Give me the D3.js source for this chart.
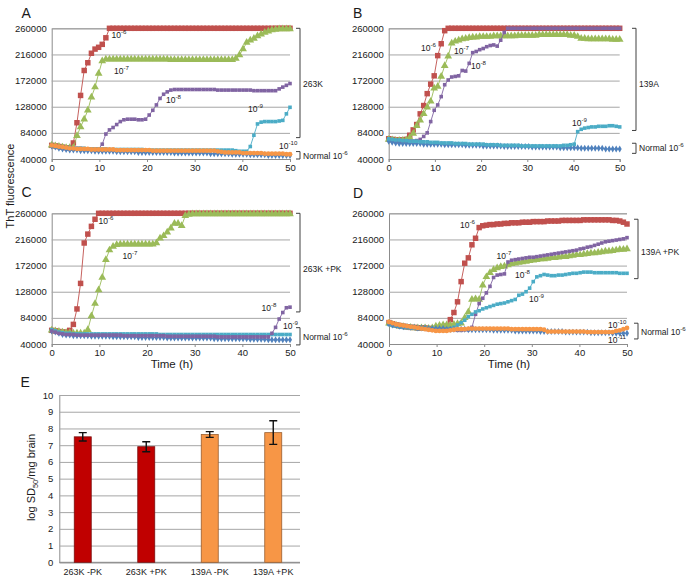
<!DOCTYPE html>
<html>
<head>
<meta charset="utf-8">
<script src="https://cdn.jsdelivr.net/npm/d3@7"></script>
<style>
  body { margin: 0; background: #fff; }
  svg { font-family: "Liberation Sans", Arial, sans-serif; }
</style>
</head>
<body>
<div id="chart"></div>
<script>
// readings every ~45 min, 67 reads over 50 h
const nReads = 67;
const timeTicks = [0, 10, 20, 30, 40, 50];
const thtTicks = [40000, 84000, 128000, 172000, 216000, 260000];

// ThT fluorescence, in thousands
// Panel A: 263K
const a_1e6 = [63,62,61,60,59,59,67,101,147,189,
  202,218,225,228,233,244,260,260,260,260,
  260,260,260,260,260,260,260,260,260,260,
  260,260,260,260,260,260,260,260,260,260,
  260,260,260,260,260,260,260,260,260,260,
  260,260,260,260,260,260,260,260,260,260,
  260,260,260,260,260,260,260];
const a_1e7 = [63,62,61,60,59,59,59,79,94,107,
  122,144,161,184,205,208,208,208,208,208,
  208,208,208,208,208,208,208,208,208,208,
  208,208,208,207,207,207,207,207,207,207,
  207,207,207,207,207,207,207,207,207,207,
  207,209,215,225,236,240,243,247,250,253,
  255,257,258,259,259,259,259];
const a_1e8 = [63,62,61,60,59,59,58,58,58,57,
  57,57,57,57,65,82,89,93,98,103,
  106,107,107,107,106,106,107,114,122,131,
  142,149,153,156,157,157,157,157,157,157,
  157,157,157,157,157,157,156,156,156,156,
  156,156,156,156,156,156,155,155,155,155,
  155,155,155,158,161,164,167];
const a_1e9 = [62,61,60,60,59,59,58,58,58,58,
  57,57,57,57,57,57,56,56,56,56,
  56,56,56,56,56,56,55,55,55,55,
  55,55,55,55,55,55,55,55,55,55,
  55,55,55,55,55,55,55,55,55,55,
  55,54,53,53,53,61,80,99,102,103,
  103,103,103,104,105,116,127];
const a_1e10 = [63,62,61,60,59,58,58,57,57,57,
  57,56,56,56,56,56,56,56,55,55,
  55,55,55,55,55,55,55,55,54,54,
  54,54,54,54,54,54,54,54,54,54,
  54,54,54,54,54,54,53,52,51,51,
  51,51,51,50,50,50,50,50,50,49,
  49,49,49,49,49,48,48];
const a_normal = [62,60,58,57,56,55,55,55,54,54,
  54,54,53,53,53,53,53,53,52,52,
  52,52,52,52,51,51,51,51,51,51,
  51,51,51,51,50,50,50,50,50,50,
  50,50,50,50,49,49,49,49,49,49,
  48,48,48,48,48,47,47,47,47,47,
  46,46,46,46,46,46,46];

// Panel B: 139A
const b_1e6 = [74,73,72,72,72,73,80,89,98,116,
  130,150,166,180,214,234,256,260,260,260,
  260,260,260,260,260,260,260,260,260,260,
  260,260,260,260,260,260,260,260,260,260,
  260,260,260,260,260,260,260,260,260,260,
  260,260,260,260,260,260,260,260,260,260,
  260,260,260,260,260,260,260];
const b_1e7 = [73,72,71,71,71,72,76,83,96,105,
  116,127,137,159,162,179,197,213,235,238,
  240,242,243,244,245,245,246,246,246,246,
  247,247,247,247,247,247,247,248,248,248,
  248,248,248,249,249,249,249,249,249,249,
  249,249,248,248,246,243,243,242,242,242,
  242,242,242,242,241,241,241];
const b_1e8 = [72,71,70,70,70,70,70,70,71,73,
  78,84,103,122,131,145,165,173,178,179,
  180,189,188,201,219,221,224,226,229,231,
  232,230,240,253,260,260,260,260,260,260,
  260,260,260,260,260,260,260,260,260,260,
  260,260,260,260,260,260,260,260,260,260,
  260,260,260,260,260,260,260];
const b_1e9 = [74,73,72,72,71,71,70,70,70,69,
  69,69,68,68,68,67,67,67,67,66,
  66,66,66,65,65,65,65,65,64,64,
  64,64,63,63,63,63,63,63,62,62,
  62,62,62,62,62,62,62,62,62,62,
  63,63,64,65,86,90,92,93,94,94,
  95,95,95,96,96,95,94];
const b_normal = [70,68,67,66,66,66,66,66,66,66,
  65,65,65,65,65,65,64,64,64,64,
  64,64,63,63,63,63,63,62,62,62,
  62,62,62,61,61,61,61,61,61,61,
  61,60,60,60,60,60,60,60,60,59,
  59,59,59,59,59,58,58,58,58,58,
  58,58,57,57,57,57,57];

// Panel C: 263K +PK
const c_1e6 = [63,62,61,60,60,63,73,99,142,210,
  225,238,250,260,260,260,260,260,260,260,
  260,260,260,260,260,260,260,260,260,260,
  260,260,260,260,260,260,260,260,260,260,
  260,260,260,260,260,260,260,260,260,260,
  260,260,260,260,260,260,260,260,260,260,
  260,260,260,260,260,260,260];
const c_1e7 = [63,62,61,60,59,59,58,58,58,58,
  64,87,108,131,152,182,198,204,207,208,
  208,208,208,208,208,208,208,208,208,210,
  218,222,228,235,243,243,239,256,258,259,
  259,259,259,259,259,259,259,259,259,259,
  259,259,259,259,259,259,259,259,259,259,
  259,259,259,259,259,259,259];
const c_1e8 = [62,60,58,57,56,56,56,55,55,55,
  55,55,55,55,55,55,55,55,55,55,
  54,54,54,54,54,54,54,54,54,54,
  54,54,53,53,53,53,53,53,53,53,
  53,53,53,53,53,53,52,52,52,52,
  52,52,52,52,52,52,52,52,52,52,
  52,58,68,82,93,101,102];
const c_1e9 = [64,62,60,59,58,58,57,57,57,57,
  57,57,57,57,57,57,57,57,57,57,
  57,57,57,57,57,57,57,57,57,57,
  56,56,56,56,56,56,56,56,56,56,
  56,56,56,56,56,56,56,56,56,56,
  56,56,56,56,56,56,56,56,56,56,
  56,56,56,56,56,56,56];
const c_normal = [62,60,58,56,55,55,54,54,54,54,
  54,53,53,53,53,53,53,52,52,52,
  52,52,52,52,51,51,51,51,51,51,
  51,51,50,50,50,50,50,50,50,50,
  50,50,50,50,50,49,49,49,49,49,
  49,49,49,49,49,48,48,48,48,48,
  47,47,47,47,47,47,47];

// Panel D: 139A +PK
const d_1e6 = [76,74,72,71,70,69,68,68,67,67,
  67,66,66,66,66,67,70,81,93,111,
  145,176,185,207,218,236,239,240,241,241,
  242,242,243,243,244,244,244,245,245,245,
  246,246,246,246,247,247,247,247,248,248,
  248,248,248,248,249,249,249,249,249,249,
  249,249,248,248,247,245,242];
const d_1e7 = [75,73,71,70,69,68,68,67,67,67,
  67,66,67,70,71,72,72,72,73,74,
  75,84,94,115,116,115,139,153,160,165,
  168,170,171,173,175,176,177,178,179,180,
  181,182,183,183,184,185,185,186,187,187,
  188,189,190,190,191,192,193,193,194,195,
  196,196,197,198,199,199,200];
const d_1e8 = [74,72,70,69,68,68,67,67,66,66,
  65,65,65,65,64,64,64,64,64,63,
  63,64,64,68,90,108,117,126,137,152,
  156,157,158,178,181,182,183,184,185,186,
  186,187,188,189,190,191,192,193,194,195,
  196,197,198,200,201,203,204,206,208,210,
  212,213,214,215,216,217,219];
const d_1e9 = [73,71,70,69,68,68,67,67,66,66,
  66,65,65,65,65,65,65,66,68,72,
  76,80,86,90,94,96,99,101,103,105,
  107,108,109,111,113,115,122,124,128,134,
  145,153,155,157,156,155,155,156,156,157,
  158,159,159,160,161,161,161,160,160,160,
  160,160,160,160,159,159,159];
const d_1e10 = [77,75,73,72,71,70,69,68,67,66,
  65,64,63,62,62,62,62,63,64,65,
  65,65,66,66,66,66,66,66,66,66,
  66,66,66,66,65,65,65,65,65,65,
  65,65,65,64,61,61,61,61,61,61,
  61,61,61,61,61,60,60,60,60,60,
  60,60,60,62,63,65,67];
const d_1e11 = [74,72,71,70,69,69,68,68,67,67,
  67,66,66,66,66,66,65,65,65,65,
  65,65,64,64,64,64,64,64,64,63,
  63,63,63,63,63,62,62,62,62,62,
  62,62,61,61,61,61,61,61,61,60,
  60,60,60,60,60,60,59,59,59,59,
  59,59,58,58,58,58,58];

// Panel E: seeding activity
const sdCategories = ["263K -PK", "263K +PK", "139A -PK", "139A +PK"];
const sdMeans = [7.5, 6.91, 7.64, 7.75];
const sdLow = [7.25, 6.61, 7.47, 7.05];
const sdHigh = [7.75, 7.21, 7.81, 8.46];
const sdTicks = [0, 1, 2, 3, 4, 5, 6, 7, 8, 9, 10];

const readTimes = d3.range(nReads).map(i => i * 50 / (nReads - 1));

const col = {
  red: "#c0504d", green: "#9bbb59", purple: "#8064a2",
  aqua: "#4bacc6", blue: "#4f81bd", orange: "#f79646"
};
const mk = {
  red: [d3.symbolSquare, 30], green: [d3.symbolTriangle, 26],
  purple: [d3.symbolSquare, 13], aqua: [d3.symbolSquare, 13],
  blue: [d3.symbolDiamond, 14], orange: [d3.symbolCircle, 18]
};

const svg = d3.select("#chart").append("svg")
  .attr("width", 686).attr("height", 579);

function powText(g, x, y, base, exp, size) {
  const t = g.append("text").attr("x", x).attr("y", y)
    .attr("font-size", size).attr("fill", "#1a1a1a");
  t.append("tspan").text(base);
  t.append("tspan").attr("dy", -size * 0.42).attr("font-size", size * 0.72).text(exp);
  return t;
}

function drawPanel(p) {
  const x = d3.scaleLinear().domain([0, 50]).range(p.xr);
  const y = d3.scaleLinear().domain([40, 260]).range(p.yr);
  const g = svg.append("g");
  const w = p.xr[1] - p.xr[0];

  const ya = g.append("g")
    .attr("transform", `translate(${p.xr[0]},0)`)
    .call(d3.axisLeft(y).tickValues(thtTicks.map(d => d / 1000))
      .tickFormat(d => d * 1000).tickSize(-w).tickPadding(5));
  ya.select(".domain").attr("stroke", "#8c8c8c");
  ya.selectAll(".tick line").attr("stroke", "#a6a6a6");
  ya.selectAll(".tick text").attr("font-size", 9.5).attr("fill", "#1a1a1a")
    .attr("font-family", "Liberation Sans, Arial, sans-serif");

  const xa = g.append("g")
    .attr("transform", `translate(0,${p.yr[0]})`)
    .call(d3.axisBottom(x).tickValues(timeTicks).tickSize(3).tickPadding(2));
  xa.select(".domain").attr("stroke", "#8c8c8c");
  xa.selectAll(".tick line").attr("stroke", "#8c8c8c");
  xa.selectAll(".tick text").attr("font-size", 9.5).attr("fill", "#1a1a1a")
    .attr("font-family", "Liberation Sans, Arial, sans-serif");

  const line = d3.line().x((d, i) => x(readTimes[i])).y(d => y(d));
  p.series.forEach(s => {
    g.append("path").datum(s.values)
      .attr("fill", "none").attr("stroke", col[s.color])
      .attr("stroke-width", 0.9).attr("d", line);
    const sym = d3.symbol().type(mk[s.color][0]).size(mk[s.color][1]);
    g.append("g").selectAll("path").data(s.values).join("path")
      .attr("transform", (d, i) => `translate(${x(readTimes[i])},${y(d)})`)
      .attr("d", sym).attr("fill", col[s.color]);
  });

  p.labels.forEach(l => powText(g, l[0], l[1], "10", l[2], 8.5));

  // brackets
  const bx = p.bracket.x;
  const br = (y0, y1, bxx) => g.append("path")
    .attr("d", `M${bxx - 4},${y0}H${bxx}V${y1}H${bxx - 4}`)
    .attr("fill", "none").attr("stroke", "#404040").attr("stroke-width", 1);
  br(y(p.bracket.top), y(p.bracket.bottom), bx);
  g.append("text").attr("x", bx + 3).attr("y", p.bracket.ty)
    .attr("font-size", 8.5).attr("fill", "#1a1a1a").text(p.bracket.text);
  br(y(p.normal.top), y(p.normal.bottom), p.normal.x);
  powText(g, p.normal.x + 3, p.normal.ty, "Normal 10", "-6", 8.5);

  g.append("text").attr("x", p.letter[0]).attr("y", p.letter[1])
    .attr("font-size", 14).attr("fill", "#1a1a1a").text(p.id);
  if (p.xlabel) {
    g.append("text").attr("x", (p.xr[0] + p.xr[1]) / 2 + 1).attr("y", p.yr[0] + 24)
      .attr("text-anchor", "middle").attr("font-size", 11.5).attr("fill", "#1a1a1a")
      .text("Time (h)");
  }
}

const panels = [
  { id: "A", letter: [21.5, 18], xr: [51.7, 290], yr: [159, 28.3], xlabel: false,
    series: [
      { values: a_1e6, color: "red" }, { values: a_1e7, color: "green" },
      { values: a_1e8, color: "purple" }, { values: a_1e9, color: "aqua" },
      { values: a_normal, color: "blue" }, { values: a_1e10, color: "orange" }],
    labels: [[111.5, 38, "-6"], [114, 74, "-7"], [166, 103, "-8"], [248, 111.5, "-9"], [279, 149, "-10"]],
    bracket: { x: 300, top: 260, bottom: 76, ty: 87, text: "263K" },
    normal: { x: 300, top: 52.5, bottom: 40, ty: 158.5 } },
  { id: "B", letter: [353, 18], xr: [388.7, 619.7], yr: [159, 28.3], xlabel: false,
    series: [
      { values: b_1e6, color: "red" }, { values: b_1e7, color: "green" },
      { values: b_1e8, color: "purple" }, { values: b_normal, color: "blue" },
      { values: b_1e9, color: "aqua" }],
    labels: [[421, 51, "-6"], [454, 53.5, "-7"], [471, 69, "-8"], [572, 126, "-9"]],
    bracket: { x: 636, top: 260, bottom: 88, ty: 87, text: "139A" },
    normal: { x: 636, top: 66.5, bottom: 49.5, ty: 151 } },
  { id: "C", letter: [21.5, 197], xr: [51.7, 290], yr: [344, 213.3], xlabel: true,
    series: [
      { values: c_1e6, color: "red" }, { values: c_1e7, color: "green" },
      { values: c_normal, color: "blue" }, { values: c_1e9, color: "aqua" },
      { values: c_1e8, color: "purple" }],
    labels: [[98.5, 223.5, "-6"], [122.5, 258.5, "-7"], [261.5, 311, "-8"], [283, 328.5, "-9"]],
    bracket: { x: 300, top: 260, bottom: 94, ty: 271.5, text: "263K +PK" },
    normal: { x: 300, top: 67.5, bottom: 38.5, ty: 339.5 } },
  { id: "D", letter: [353, 198], xr: [389, 627], yr: [344, 213.3], xlabel: true,
    series: [
      { values: d_1e6, color: "red" }, { values: d_1e7, color: "green" },
      { values: d_1e8, color: "purple" }, { values: d_1e9, color: "aqua" },
      { values: d_1e11, color: "blue" }, { values: d_1e10, color: "orange" }],
    labels: [[460, 227.5, "-6"], [496.5, 259, "-7"], [515, 277.5, "-8"], [529, 302, "-9"],
      [608, 327.5, "-10"], [608, 342.5, "-11"]],
    bracket: { x: 638, top: 250, bottom: 150, ty: 254.5, text: "139A +PK" },
    normal: { x: 638, top: 75, bottom: 48.5, ty: 334.5 } }
];
panels.forEach(drawPanel);

// shared y title
svg.append("text")
  .attr("transform", "translate(14,186) rotate(-90)")
  .attr("text-anchor", "middle").attr("font-size", 11).attr("fill", "#1a1a1a")
  .text("ThT fluorescence");

// Panel E
const eg = svg.append("g");
const ex = d3.scaleBand().domain(sdCategories).range([51, 305]);
const ey = d3.scaleLinear().domain([0, 10]).range([562.3, 395]);
const eya = eg.append("g").attr("transform", "translate(59.3,0)")
  .call(d3.axisLeft(ey).tickValues(sdTicks).tickSize(-(300 - 59.3)).tickPadding(6));
eya.select(".domain").attr("stroke", "#8c8c8c");
eya.selectAll(".tick line").attr("stroke", "#a6a6a6");
eya.selectAll(".tick text").attr("font-size", 9.5).attr("fill", "#1a1a1a")
  .attr("font-family", "Liberation Sans, Arial, sans-serif");
eg.append("line").attr("x1", 59.3).attr("x2", 300)
  .attr("y1", ey(0)).attr("y2", ey(0)).attr("stroke", "#8c8c8c");

const barW = 17;
eg.selectAll("rect.bar").data(sdCategories).join("rect")
  .attr("class", "bar")
  .attr("x", d => ex(d) + ex.bandwidth() / 2 - barW / 2)
  .attr("width", barW)
  .attr("y", (d, i) => ey(sdMeans[i]))
  .attr("height", (d, i) => ey(0) - ey(sdMeans[i]))
  .attr("fill", (d, i) => i < 2 ? "#c00000" : "#f79646")
  .attr("stroke", (d, i) => i < 2 ? "#7a1010" : "#9a5f30")
  .attr("stroke-width", 0.8);

const errPath = (d, i) => {
  const cx = ex(d) + ex.bandwidth() / 2;
  const lo = ey(sdLow[i]), hi = ey(sdHigh[i]);
  return `M${cx},${lo}V${hi}M${cx - 4},${hi}H${cx + 4}M${cx - 4},${lo}H${cx + 4}`;
};
eg.selectAll("path.err").data(sdCategories).join("path")
  .attr("class", "err").attr("d", errPath)
  .attr("stroke", "#111").attr("stroke-width", 1.4).attr("fill", "none");

eg.selectAll("text.cat").data(sdCategories).join("text")
  .attr("class", "cat")
  .attr("x", d => ex(d) + ex.bandwidth() / 2).attr("y", 575)
  .attr("text-anchor", "middle").attr("font-size", 9).attr("fill", "#1a1a1a")
  .text(d => d);

const ylab = eg.append("text")
  .attr("transform", "translate(35,477.5) rotate(-90)")
  .attr("text-anchor", "middle").attr("font-size", 11).attr("fill", "#1a1a1a");
ylab.append("tspan").text("log SD");
ylab.append("tspan").attr("dy", 3).attr("font-size", 7.5).text("50");
ylab.append("tspan").attr("dy", -3).text("/mg brain");

eg.append("text").attr("x", 20.5).attr("y", 386.5)
  .attr("font-size", 14).attr("fill", "#1a1a1a").text("E");
</script>
</body>
</html>
